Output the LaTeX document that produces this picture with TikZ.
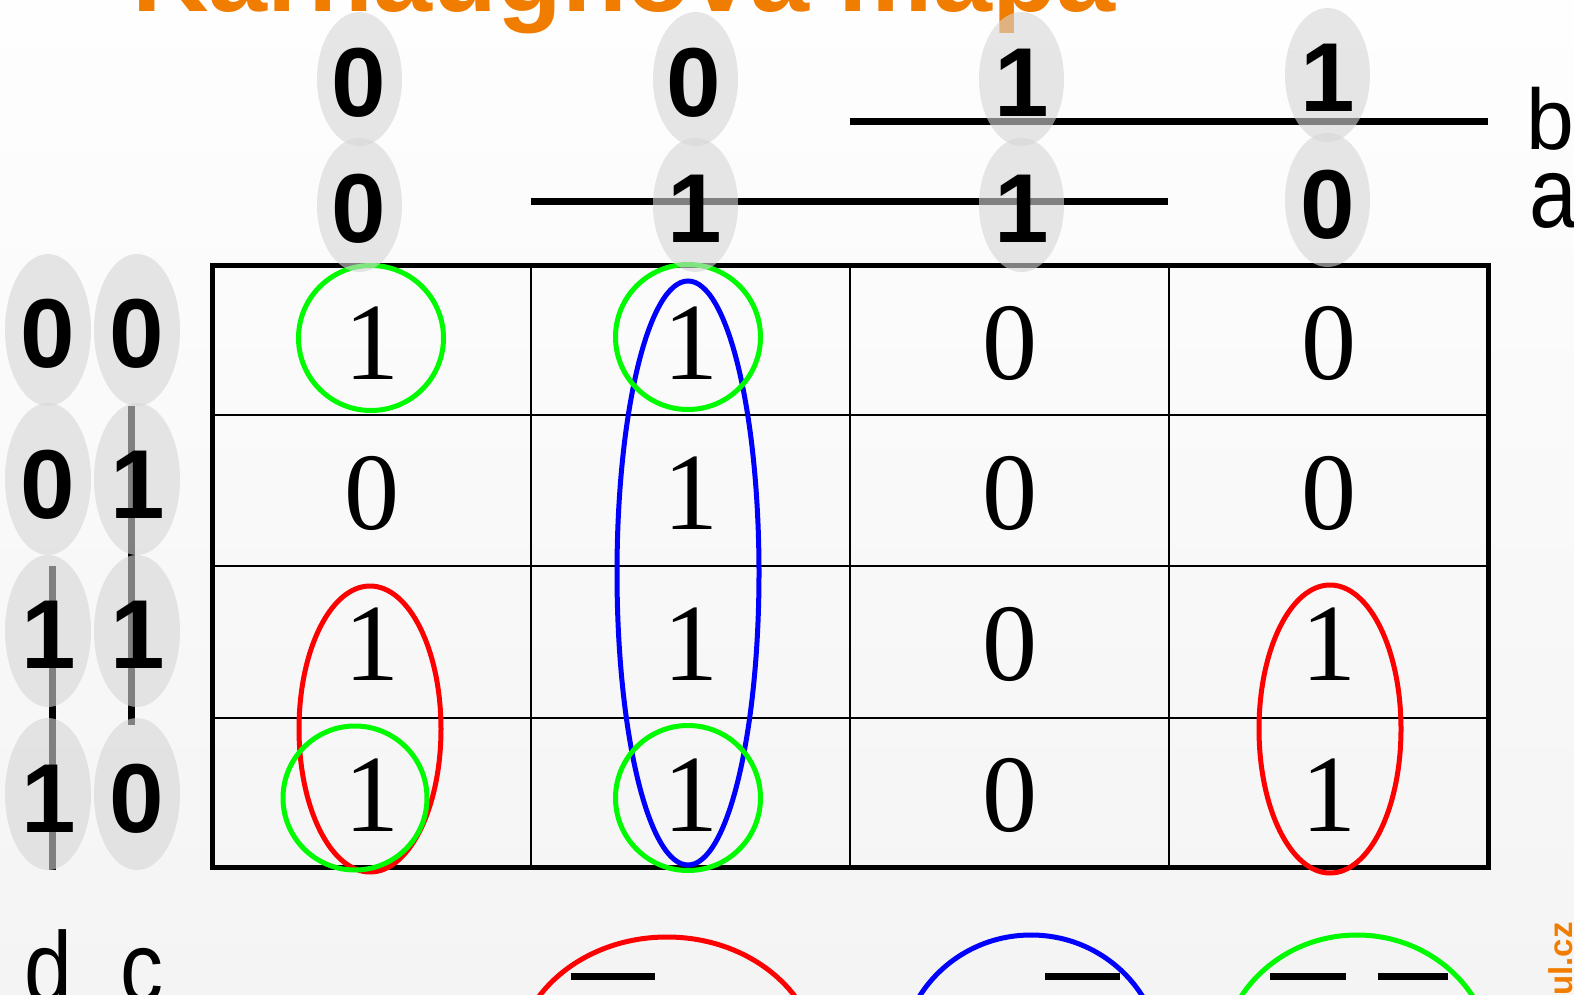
\documentclass[tikz,border=0pt]{standalone}
\usepackage{fontspec}
\setmainfont{Liberation Serif}
\newfontfamily\arialf{Liberation Sans}
\definecolor{ttlorange}{RGB}{240,125,0}
\definecolor{ellgray}{RGB}{214,214,214}
\definecolor{kgreen}{RGB}{0,250,0}
\definecolor{kred}{RGB}{255,0,0}
\definecolor{kblue}{RGB}{0,0,255}
\definecolor{bgtop}{RGB}{254,254,254}
\definecolor{bgbot}{RGB}{244,244,244}
\begin{document}
\begin{tikzpicture}[x=1pt,y=-1pt,
  cellnum/.style={anchor=base,inner sep=0pt,font=\fontsize{110}{110}\selectfont},
  hdr/.style={anchor=base,inner sep=0pt,font=\arialf\bfseries\fontsize{98}{98}\selectfont},
  lbl/.style={anchor=base west,inner sep=0pt,font=\arialf\fontsize{86}{86}\selectfont},
  halo/.style={fill=ellgray,fill opacity=0.6,draw=none},
  overbar/.style={line width=7pt},
  loopline/.style={line width=5pt}
]
\useasboundingbox (0,0) rectangle (1574,995);
\clip (0,0) rectangle (1574,995);
\shade[top color=bgtop,bottom color=bgbot] (0,0) rectangle (1574,995);

% title (cut off at top)
\node[anchor=base west,inner sep=0pt,text=ttlorange,
  font=\arialf\bfseries\fontsize{106}{106}\selectfont] (title) at (132,12) {Karnaughova mapa};

% grid
\foreach \x in {531,850,1169} \draw[line width=2.5pt] (\x,265) -- (\x,867);
\foreach \y in {415,566,718} \draw[line width=2.5pt] (212,\y) -- (1488,\y);
\draw[line width=5pt] (212,265) rectangle (1488,867);

% cell values
\foreach \r/\yb/\va/\vb/\vc/\vd in {1/379/1/1/0/0, 2/529.5/0/1/0/0, 3/680/1/1/0/1, 4/831/1/1/0/1}{
  \node[cellnum] (v\r a) at (371.5,\yb) {\va};
  \node[cellnum] (v\r b) at (690.5,\yb) {\vb};
  \node[cellnum] (v\r c) at (1009.5,\yb) {\vc};
  \node[cellnum] (v\r d) at (1328.5,\yb) {\vd};
}

% groupings in the map
\draw[loopline,kred] (370,729) ellipse [x radius=71,y radius=143];
\draw[loopline,kred] (1330,729) ellipse [x radius=71,y radius=144];
\draw[loopline,kblue] (688,573) ellipse [x radius=71,y radius=292];
\draw[loopline,kgreen] (371,338) circle [radius=72.5];
\draw[loopline,kgreen] (688,337) circle [radius=72.5];
\draw[loopline,kgreen] (355,798) circle [radius=72];
\draw[loopline,kgreen] (688,798) circle [radius=72.5];

% terms at the bottom (cut off)
\draw[loopline,kred] (667,1066) ellipse [x radius=152,y radius=129];
\draw[loopline,kblue] (1031,1064) ellipse [x radius=131,y radius=129];
\draw[loopline,kgreen] (1357,1064) ellipse [x radius=136,y radius=129];
\coordinate (ba1) at (571,976); \coordinate (ba2) at (655,976);
\coordinate (bb1) at (1045,976); \coordinate (bb2) at (1120,976);
\coordinate (bc1) at (1270,976); \coordinate (bc2) at (1346,976);
\coordinate (bd1) at (1378,976); \coordinate (bd2) at (1448,976);
\draw[overbar] (ba1) -- (ba2);
\draw[overbar] (bb1) -- (bb2);
\draw[overbar] (bc1) -- (bc2);
\draw[overbar] (bd1) -- (bd2);

% variable labels
\node[lbl,text depth=0pt] (lb) at (1526,150) {b};
\node[lbl] (la) at (1529,228) {\scalebox{1}[1.17]{a}};
\node[lbl] (ld) at (24,1002) {\scalebox{1}[1.17]{d}};
\node[lbl] (lc) at (120,1002) {\scalebox{1}[1.17]{c}};

% range bars
\coordinate (bS) at (850,122); \coordinate (bE) at (1488,122);
\coordinate (aS) at (531,202); \coordinate (aE) at (1168,202);
\coordinate (dS) at (52,566); \coordinate (dE) at (52,870);
\coordinate (cS) at (131,406); \coordinate (cE) at (131,725);
\draw[overbar] (bS) -- (bE);
\draw[overbar] (aS) -- (aE);
\draw[overbar] (dS) -- (dE);
\draw[overbar] (cS) -- (cE);

% grey halos
\foreach \x/\yt/\yb in {359.5/79/205, 695.5/79/205, 1021.5/79/205, 1327.5/75/200}{
  \fill[halo] (\x,\yt) ellipse [x radius=42.5,y radius=67];
  \fill[halo] (\x,\yb) ellipse [x radius=42.5,y radius=67];
}
\foreach \y in {330,479,631,794}{
  \fill[halo] (48,\y) ellipse [x radius=43,y radius=76];
  \fill[halo] (137,\y) ellipse [x radius=43,y radius=76];
}

% header digits
\node[hdr] (hb1) at (359,117) {0};
\node[hdr] (hb2) at (694,117) {0};
\node[hdr] (hb3) at (1022,117) {1};
\node[hdr] (hb4) at (1328,112) {1};
\node[hdr] (ha1) at (359,242) {0};
\node[hdr] (ha2) at (695,242) {1};
\node[hdr] (ha3) at (1022,242) {1};
\node[hdr] (ha4) at (1328,238) {0};
\node[hdr] (hd1) at (48,367) {0};
\node[hdr] (hd2) at (48,518) {0};
\node[hdr] (hd3) at (49,668) {1};
\node[hdr] (hd4) at (49,832) {1};
\node[hdr] (hc1) at (137,367) {0};
\node[hdr] (hc2) at (138,518) {1};
\node[hdr] (hc3) at (138,668) {1};
\node[hdr] (hc4) at (137,832) {0};

% side footer (cut off)
\node[rotate=90,anchor=base east,inner sep=0pt,text=ttlorange,
  font=\arialf\bfseries\fontsize{33}{33}\selectfont] (url) at (1572,922) {ul.cz};
\end{tikzpicture}
\end{document}
